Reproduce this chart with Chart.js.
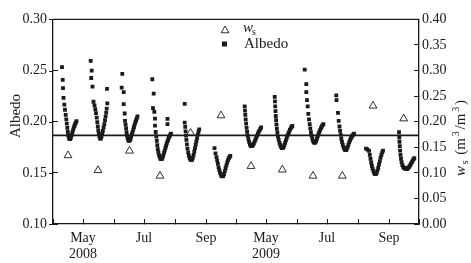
<!DOCTYPE html>
<html><head><meta charset="utf-8">
<script src="https://cdn.jsdelivr.net/npm/chart.js@4.4.0/dist/chart.umd.min.js"></script>
<style>html,body{margin:0;padding:0;background:#fff;}canvas{display:block;}</style>
</head><body>
<canvas id="c" width="471" height="263"></canvas>
<script>
// ---- data (x = days counted Apr-Sep 2008 then Apr-Sep 2009) ----
const albedoDay2008 = [
  9.0,9.7,10.0,10.5,11.3,12.0,12.7,13.3,13.8,14.3,14.8,15.3,15.8,16.5,17.2,17.9,18.6,19.3,20.0,20.7,21.4,22.1,22.8,23.5,
  37.7,38.7,38.2,39.5,40.5,41.5,42.3,43.0,43.7,44.3,44.8,45.3,45.8,46.4,47.1,47.8,48.5,49.2,49.9,50.6,51.3,52.0,52.6,53.2,53.7,54.3,54.0,
  69.3,68.7,70.7,70.7,71.7,72.0,72.6,73.1,73.6,74.1,74.7,75.4,76.1,76.8,77.5,78.2,78.9,79.6,80.3,81.0,81.7,82.4,83.1,83.8,84.5,
  99.3,100.7,100.0,101.3,102.0,102.0,102.7,103.3,103.8,104.3,104.8,105.4,106.1,106.8,107.5,108.2,108.9,109.6,110.3,111.0,111.7,112.4,113.1,113.8,114.5,115.2,115.9,116.6,117.3,118.0,114.5,114.5,
  131.7,131.7,132.2,132.6,133.0,133.4,133.9,134.5,135.2,135.9,136.7,137.5,138.3,139.1,139.9,140.6,141.3,142.0,142.7,143.4,144.1,144.8,145.5,146.2,
  161.5,162.5,163.5,164.2,164.9,165.6,166.3,167.0,167.8,168.6,169.4,170.2,171.0,171.8,172.6,173.4,174.2,175.0,175.8,176.6,177.3
];
const albedo2008 = [
  0.2533,0.2408,0.2329,0.2233,0.2167,0.2117,0.2066,0.2023,0.1981,0.1939,0.1901,0.1869,0.1845,0.1831,0.1831,0.1845,0.1869,0.1892,0.1916,0.1939,0.1958,0.1977,0.1991,0.2005,
  0.2594,0.2500,0.2427,0.2343,0.2195,0.2159,0.2122,0.2084,0.2039,0.1995,0.1953,0.1915,0.1883,0.1854,0.1836,0.1836,0.1854,0.1883,0.1911,0.1944,0.1977,0.2014,0.2052,0.2089,0.2127,0.2180,0.2321,
  0.2468,0.2333,0.2289,0.2171,0.2080,0.2008,0.1972,0.1934,0.1897,0.1864,0.1836,0.1817,0.1812,0.1817,0.1831,0.1854,0.1878,0.1901,0.1925,0.1948,0.1972,0.1995,0.2014,0.2033,0.2052,
  0.2415,0.2274,0.2133,0.2096,0.2030,0.1961,0.1899,0.1855,0.1812,0.1770,0.1732,0.1699,0.1671,0.1652,0.1638,0.1634,0.1638,0.1652,0.1671,0.1695,0.1718,0.1742,0.1765,0.1789,0.1808,0.1826,0.1845,0.1859,0.1873,0.1883,0.2028,0.1977,
  0.2174,0.1991,0.1949,0.1906,0.1864,0.1822,0.1779,0.1737,0.1699,0.1667,0.1643,0.1629,0.1624,0.1629,0.1648,0.1676,0.1709,0.1742,0.1775,0.1808,0.1840,0.1873,0.1901,0.1925,
  0.1742,0.1690,0.1653,0.1620,0.1587,0.1554,0.1526,0.1502,0.1483,0.1469,0.1465,0.1469,0.1488,0.1516,0.1545,0.1573,0.1601,0.1624,0.1643,0.1657,0.1666
];
const albedoDay2009 = [
  191.7,192.0,192.3,192.7,193.1,193.6,194.1,194.7,195.4,196.1,196.9,197.7,198.5,199.3,200.1,200.9,201.7,202.5,203.3,204.1,204.9,205.7,206.5,207.3,208.1,
  221.7,222.0,222.2,222.5,222.8,223.1,223.5,223.9,224.4,225.0,225.7,226.5,227.3,228.1,228.9,229.7,230.5,231.3,232.1,232.9,233.7,234.5,235.3,236.1,236.9,237.7,238.5,239.3,
  251.7,253.3,253.3,254.0,254.7,255.3,256.0,256.7,257.3,257.9,258.6,259.3,260.0,260.8,261.6,262.4,263.2,264.0,264.8,265.6,266.4,267.2,268.0,268.8,269.6,270.4,
  283.3,283.5,285.0,285.7,286.5,287.1,287.7,288.3,289.0,289.8,290.6,291.4,292.2,293.0,293.8,294.6,295.4,296.2,297.0,297.8,298.6,299.4,300.2,301.0,
  313.0,314.5,316.0,316.8,317.5,318.2,318.9,319.6,320.4,321.2,322.0,322.8,323.6,324.4,325.2,326.0,326.8,327.6,328.4,329.2,330.0,
  346.0,346.3,346.5,346.8,347.1,347.5,348.0,348.6,349.3,350.1,350.9,351.7,352.5,353.3,354.1,354.9,355.7,356.5,357.3,358.1,358.9,359.7,360.5,361.3
];
const albedo2009 = [
  0.2149,0.2108,0.2066,0.2023,0.1981,0.1939,0.1901,0.1864,0.1831,0.1803,0.1779,0.1765,0.1761,0.1765,0.1775,0.1789,0.1808,0.1826,0.1845,0.1864,0.1883,0.1901,0.1915,0.1930,0.1944,
  0.2243,0.2198,0.2150,0.2103,0.2056,0.2014,0.1972,0.1930,0.1892,0.1854,0.1822,0.1793,0.1770,0.1751,0.1742,0.1742,0.1751,0.1770,0.1793,0.1817,0.1840,0.1864,0.1883,0.1901,0.1920,0.1934,0.1948,0.1958,
  0.2509,0.2368,0.2289,0.2211,0.2149,0.2077,0.2023,0.1977,0.1934,0.1897,0.1864,0.1836,0.1812,0.1798,0.1793,0.1798,0.1812,0.1836,0.1859,0.1883,0.1901,0.1920,0.1939,0.1953,0.1967,0.1977,
  0.2258,0.2211,0.2086,0.2008,0.1953,0.1911,0.1873,0.1836,0.1803,0.1775,0.1751,0.1732,0.1723,0.1723,0.1732,0.1751,0.1775,0.1798,0.1817,0.1836,0.1850,0.1864,0.1873,0.1883,
  0.1737,0.1728,0.1714,0.1676,0.1638,0.1601,0.1568,0.1540,0.1516,0.1497,0.1488,0.1488,0.1497,0.1521,0.1549,0.1582,0.1615,0.1648,0.1676,0.1700,0.1718,
  0.1897,0.1845,0.1803,0.1761,0.1718,0.1676,0.1638,0.1605,0.1577,0.1558,0.1549,0.1545,0.1540,0.1540,0.1540,0.1545,0.1554,0.1563,0.1577,0.1592,0.1605,0.1620,0.1634,0.1643
];
const wsDay   = [15, 45, 76.5, 107, 137.5, 168, 198, 229.3, 260, 289.3, 320, 350.7];
const wsValue = [0.134, 0.105, 0.143, 0.094, 0.178, 0.212, 0.113, 0.106, 0.094, 0.094, 0.231, 0.206];
const meanAlbedo = 0.1867;
const tickDays   = [0, 30, 61, 91, 122, 153, 183, 213, 244, 274, 305, 336, 366];
const tickLabels = ['', ['May','2008'], '', 'Jul', '', 'Sep', '', ['May','2009'], '', 'Jul', '', 'Sep', ''];

// ---- build ----
const FONT = "'Liberation Serif','DejaVu Serif',serif";
const INK = '#1a1a1a';
const albedoPts = albedoDay2008.map((d,i)=>({x:d,y:albedo2008[i]}))
  .concat(albedoDay2009.map((d,i)=>({x:d,y:albedo2009[i]})));
const wsPts = wsDay.map((d,i)=>({x:d,y:wsValue[i]}));
const xMin = tickDays[0], xMax = tickDays[tickDays.length-1];

const deco = {
  id:'deco',
  afterDraw(chart){
    const ctx = chart.ctx, a = chart.chartArea;
    ctx.save();
    ctx.strokeStyle = INK; ctx.lineWidth = 1.3;
    ctx.beginPath(); ctx.moveTo(a.left, a.top); ctx.lineTo(a.right, a.top); ctx.stroke();
    const ys = chart.scales.y;
    ctx.lineWidth = 1;
    ys.ticks.forEach(t=>{
      const p = Math.round(ys.getPixelForValue(t.value))+0.5;
      ctx.beginPath(); ctx.moveTo(a.left-4, p); ctx.lineTo(a.left, p); ctx.stroke();
    });
    ctx.fillStyle = INK;
    ctx.save();
    ctx.translate(19.5, 116); ctx.rotate(-Math.PI/2);
    ctx.font = '15px ' + FONT; ctx.textAlign='center'; ctx.textBaseline='alphabetic';
    ctx.fillText('Albedo', 0, 0);
    ctx.restore();
    ctx.save();
    ctx.translate(465, 176); ctx.rotate(-Math.PI/2);
    ctx.textBaseline='alphabetic'; ctx.textAlign='left';
    const runs = [
      ['italic 15px '+FONT, 'w', 0],
      ['10px '+FONT, 's', 3],
      ['15px '+FONT, ' (m', 0],
      ['10px '+FONT, '3', -6],
      ['15px '+FONT, '/m', 0],
      ['10px '+FONT, '3', -6],
      ['15px '+FONT, ')', 0]
    ];
    let px = 0;
    runs.forEach(r=>{ ctx.font=r[0]; ctx.fillText(r[1], px, r[2]); px += ctx.measureText(r[1]).width + 1.8; });
    ctx.restore();
    ctx.lineWidth = 0.9; ctx.strokeStyle = INK;
    const tx = 225, ty = 30.5, r = 4.5;
    ctx.beginPath();
    ctx.moveTo(tx, ty - r);
    ctx.lineTo(tx + r*Math.sin(2*Math.PI/3), ty - r*Math.cos(2*Math.PI/3));
    ctx.lineTo(tx + r*Math.sin(4*Math.PI/3), ty - r*Math.cos(4*Math.PI/3));
    ctx.closePath(); ctx.stroke();
    ctx.fillRect(222, 41.5, 5, 5);
    ctx.font = 'italic 15px ' + FONT; ctx.textBaseline='alphabetic'; ctx.textAlign='left';
    ctx.fillText('w', 243, 32);
    ctx.font = '10px ' + FONT; ctx.fillText('s', 252, 34.5);
    ctx.font = '15px ' + FONT; ctx.fillText('Albedo', 244, 48);
    ctx.restore();
  }
};

new Chart(document.getElementById('c'), {
  type: 'scatter',
  data: { datasets: [
    { label:'mean', data:[{x:xMin,y:meanAlbedo},{x:xMax,y:meanAlbedo}], showLine:true, borderColor:INK, borderWidth:1.8, pointRadius:0, yAxisID:'y', order:2 },
    { label:'Albedo', data:albedoPts, pointStyle:'rect', pointRadius:2.7, backgroundColor:INK, borderWidth:0, yAxisID:'y', order:1 },
    { label:'ws', data:wsPts, pointStyle:'triangle', pointRadius:4.5, backgroundColor:'rgba(0,0,0,0)', borderColor:INK, borderWidth:0.9, yAxisID:'y1', order:0 }
  ]},
  options: {
    responsive:false, animation:false, devicePixelRatio:1,
    layout:{ padding:{ top:11, left:0, right:0, bottom:0 } },
    plugins:{ legend:{display:false}, tooltip:{enabled:false} },
    scales:{
      x:{ type:'linear', min:xMin, max:xMax,
        afterBuildTicks(s){ s.ticks = tickDays.map(v=>({value:v})); },
        afterFit(s){ s.height = 39; },
        grid:{ drawOnChartArea:false, drawTicks:true, tickLength:-5, color:INK, lineWidth:1 },
        border:{ display:true, color:INK, width:1.3 },
        ticks:{ autoSkip:false, maxRotation:0, minRotation:0, padding:10.5, color:INK,
          font:{ family:FONT, size:14 },
          callback:(v,i)=>tickLabels[i] }
      },
      y:{ type:'linear', position:'left', min:0.10, max:0.30,
        afterBuildTicks(s){ s.ticks = [0.10,0.15,0.20,0.25,0.30].map(v=>({value:v})); },
        afterFit(s){ s.width = 53; },
        grid:{ drawOnChartArea:false, drawTicks:true, tickLength:-5, color:INK, lineWidth:1 },
        border:{ display:true, color:INK, width:1.3 },
        ticks:{ padding:11, color:INK, font:{ family:FONT, size:14 }, callback:v=>v.toFixed(2) }
      },
      y1:{ type:'linear', position:'right', min:0, max:0.40,
        afterBuildTicks(s){ s.ticks = [0,0.05,0.10,0.15,0.20,0.25,0.30,0.35,0.40].map(v=>({value:v})); },
        afterFit(s){ s.width = 52; },
        grid:{ drawOnChartArea:false, drawTicks:true, tickLength:-5, color:INK, lineWidth:1 },
        border:{ display:true, color:INK, width:1.3 },
        ticks:{ padding:8, color:INK, font:{ family:FONT, size:14 }, callback:v=>v.toFixed(2) }
      }
    }
  },
  plugins:[deco]
});
</script>
</body></html>
